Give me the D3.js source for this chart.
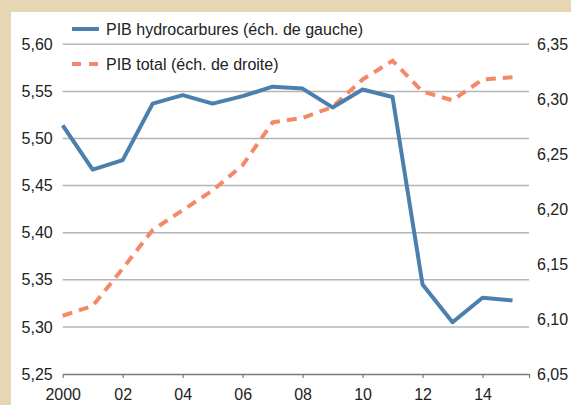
<!DOCTYPE html>
<html>
<head>
<meta charset="utf-8">
<script src="https://cdn.jsdelivr.net/npm/d3@7"></script>
<style>
  body { margin: 0; background: #e6d6b4; }
  svg { display: block; }
  text { font-family: "Liberation Sans", Arial, sans-serif; fill: #222; }
</style>
</head>
<body>
<div id="chart"></div>
<script>
// données
var years = d3.range(2000, 2016);
var pibHydro = [5.514, 5.467, 5.477, 5.537, 5.546, 5.537, 5.545, 5.555, 5.553, 5.533, 5.552, 5.544, 5.345, 5.305, 5.331, 5.328];
var pibTotal = [6.103, 6.112, 6.146, 6.181, 6.199, 6.217, 6.240, 6.279, 6.283, 6.293, 6.318, 6.335, 6.307, 6.299, 6.318, 6.320];
var leftTicks = [5.25, 5.30, 5.35, 5.40, 5.45, 5.50, 5.55, 5.60];
var rightTicks = [6.05, 6.10, 6.15, 6.20, 6.25, 6.30, 6.35];
var xTicks = [2000, 2002, 2004, 2006, 2008, 2010, 2012, 2014];
var legendLabels = ["PIB hydrocarbures (éch. de gauche)", "PIB total (éch. de droite)"];

var W = 571, H = 405;
var blue = "#4b7fad", orange = "#f4896a";
var fmt = d => d === 2000 ? "2000" : String(d % 100).padStart(2, "0");
var fmtY = d => d.toFixed(2).replace(".", ",");

var svg = d3.select("#chart").append("svg")
    .attr("width", W).attr("height", H);

// panneau blanc
svg.append("rect").attr("x", 11).attr("y", 12)
   .attr("width", W - 11).attr("height", H - 12).attr("fill", "#fff");

var x = d3.scaleLinear().domain([2000, 2015.55]).range([62.7, 529]);
var yL = d3.scaleLinear().domain([5.25, 5.60]).range([374, 44.3]);
var yR = d3.scaleLinear().domain([6.05, 6.35]).range([374, 44.3]);

// grille
svg.append("g").selectAll("line")
   .data(leftTicks.slice(1)).enter().append("line")
   .attr("x1", x.range()[0]).attr("x2", x.range()[1])
   .attr("y1", d => yL(d)).attr("y2", d => yL(d))
   .attr("stroke", "#b4b4b4").attr("stroke-width", 1.5);

// axe gauche
var gl = svg.append("g").attr("transform", "translate(62.7,0)")
   .call(d3.axisLeft(yL).tickValues(leftTicks).tickFormat(fmtY).tickSize(0).tickPadding(10));
gl.select(".domain").remove();
gl.selectAll("text").style("font-size", "16px").attr("fill", "#222");

// axe droit
var gr = svg.append("g").attr("transform", "translate(529,0)")
   .call(d3.axisRight(yR).tickValues(rightTicks).tickFormat(fmtY).tickSize(0).tickPadding(8));
gr.select(".domain").remove();
gr.selectAll("text").style("font-size", "16px").attr("fill", "#222");

// axe x
var gx = svg.append("g").attr("transform", "translate(0,374)")
   .call(d3.axisBottom(x).tickValues(xTicks.concat([2015.55])).tickFormat(d => xTicks.includes(d) ? fmt(d) : "")
        .tickSize(4).tickSizeOuter(0).tickPadding(11));
gx.select(".domain").attr("stroke", "#7a7a7a").attr("stroke-width", 1.5);
gx.selectAll(".tick line").attr("stroke", "#7a7a7a").attr("stroke-width", 1.2);
gx.selectAll("text").style("font-size", "16px").attr("fill", "#222");

// courbes
var lineL = d3.line().x((d, i) => x(years[i])).y(d => yL(d));
var lineR = d3.line().x((d, i) => x(years[i])).y(d => yR(d));

svg.append("path").datum(pibTotal)
   .attr("d", lineR).attr("fill", "none")
   .attr("stroke", orange).attr("stroke-width", 4)
   .attr("stroke-dasharray", "10,7");

svg.append("path").datum(pibHydro)
   .attr("d", lineL).attr("fill", "none")
   .attr("stroke", blue).attr("stroke-width", 4)
   .attr("stroke-linejoin", "round");

// légende
var leg = svg.append("g");
[[blue, null, 29], [orange, "9,8", 64]].forEach(function(s, i) {
    leg.append("line").attr("x1", 72).attr("x2", 99)
       .attr("y1", s[2]).attr("y2", s[2])
       .attr("stroke", s[0]).attr("stroke-width", 4)
       .attr("stroke-dasharray", s[1]);
    leg.append("text").attr("x", 106).attr("y", s[2] + 6)
       .style("font-size", "16px").text(legendLabels[i]);
});
</script>
</body>
</html>
